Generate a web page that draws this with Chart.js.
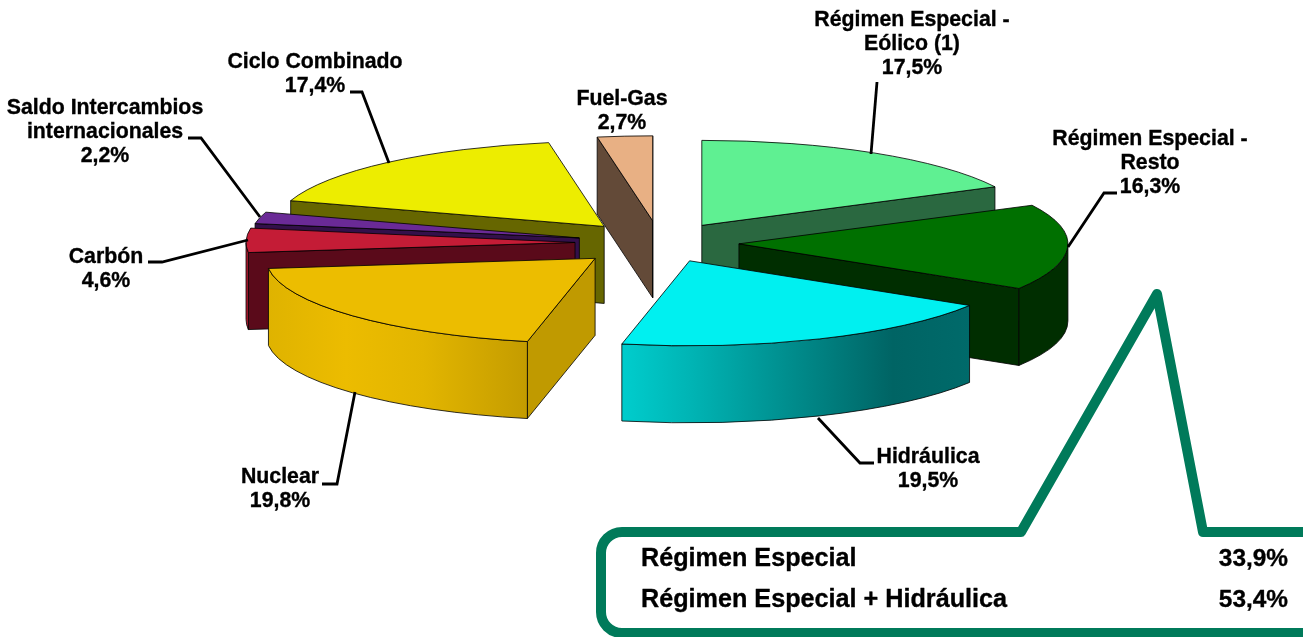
<!DOCTYPE html>
<html><head><meta charset="utf-8">
<style>html,body{margin:0;padding:0;background:#fff}canvas{display:block}</style>
<script src="https://cdn.jsdelivr.net/npm/chart.js@4"></script>
</head><body><canvas id="c" width="1303" height="637"></canvas>
<script>
// ---- data ----
const categories = ["Régimen Especial - Eólico (1)","Régimen Especial - Resto","Hidráulica","Nuclear","Carbón","Saldo Intercambios internacionales","Ciclo Combinado","Fuel-Gas"];
const shares = [17.5,16.3,19.5,19.8,4.6,2.2,17.4,2.7];
const summaryNames = ["Régimen Especial","Régimen Especial + Hidráulica"];
const summaryValues = [33.9,53.4];
// ---- styling ----
const explode = [80,79,75,88,85,83,85,86];
const topColors = ["#5ff092","#007000","#00f0f0","#ecbd00","#c41c36","#6a2a96","#eded00","#e8b084"];
const faceColors = ["#2a6840","#002e00","#006666","#c09a00","#5a0a1a","#33104a","#666600","#634a38"];
const rimStops = [null,[[0,"#002e00"],[1,"#002e00"]],[[0,"#00cdcd"],[.2,"#00b4b4"],[.78,"#006464"],[1,"#006a6a"]],[[0,"#dfb300"],[.3,"#ecbc00"],[.6,"#e2b500"],[1,"#c49c00"]],[[0,"#b01a30"],[1,"#b01a30"]],null,null,null];
const labelLines = [["Régimen Especial -","Eólico (1)"],["Régimen Especial -","Resto"],["Hidráulica"],["Nuclear"],["Carbón"],["Saldo Intercambios","internacionales"],["Ciclo Combinado"],["Fuel-Gas"]];
const labelAnchor = [[912,20],[1150,139],[928,457],[280,477],[106,257],[105,108],[315,62],[622,99]];
const leaders = [[[877,82],[871,154]],[[1117,193],[1104,193],[1068,247]],[[874,463],[860,463],[818,418]],[[322,484],[337,484],[355,392]],[[148,262],[162,262],[248,240]],[[188,138],[201,138],[260,217]],[[350,92],[362,92],[389,163]],[]];
const squash = 0.2584, depth = 77, radius = 329;
const FONT = '"Liberation Sans", Arial, sans-serif';
const edge = "rgba(0,0,0,.8)";
const pct = v => v.toFixed(1).replace(".",",")+"%";

const pie3d = {
  id:"pie3d",
  beforeDatasetDraw(chart){
    const ctx = chart.ctx, arcs = chart.getDatasetMeta(0).data;
    const order = arcs.map((a,i)=>i).sort((p,q)=>Math.sin((arcs[p].startAngle+arcs[p].endAngle)/2)-Math.sin((arcs[q].startAngle+arcs[q].endAngle)/2));
    ctx.save();
    ctx.lineWidth = 1; ctx.lineJoin = "round"; ctx.strokeStyle = edge;
    for(const i of order){
      const a = arcs[i], s = a.startAngle, e = a.endAngle, m = (s+e)/2, R = a.outerRadius;
      const d = a.options.offset;
      const ox = a.x + d*Math.cos(m), oy = a.y + squash*d*Math.sin(m);
      const px = t => ox + R*Math.cos(t), py = t => oy + squash*R*Math.sin(t);
      const face = t => {
        ctx.beginPath(); ctx.moveTo(ox,oy); ctx.lineTo(px(t),py(t));
        ctx.lineTo(px(t),py(t)+depth); ctx.lineTo(ox,oy+depth); ctx.closePath();
        ctx.fillStyle = faceColors[i]; ctx.fill(); ctx.stroke();
      };
      if(Math.cos(s)<0) face(s);
      if(Math.cos(e)>0) face(e);
      const vis = [[s,e],[s-2*Math.PI,e-2*Math.PI]].map(([u,v])=>[Math.max(u,0),Math.min(v,Math.PI)]).find(([u,v])=>v>u);
      if(vis && rimStops[i]){
        const [u,v] = vis;
        ctx.beginPath();
        ctx.ellipse(ox,oy,R,squash*R,0,u,v,false);
        ctx.ellipse(ox,oy+depth,R,squash*R,0,v,u,true);
        ctx.closePath();
        const xa = px(v), xb = px(u), g = ctx.createLinearGradient(xa,0,xb,0);
        rimStops[i].forEach(([p,c])=>g.addColorStop(p,c));
        ctx.fillStyle = g; ctx.fill(); ctx.stroke();
      }
      ctx.beginPath(); ctx.moveTo(ox,oy);
      ctx.ellipse(ox,oy,R,squash*R,0,s,e,false); ctx.closePath();
      ctx.fillStyle = a.options.backgroundColor; ctx.fill(); ctx.stroke();
    }
    ctx.restore();
    return false;
  },
  afterDraw(chart){
    const ctx = chart.ctx;
    ctx.save();
    // leaders
    ctx.strokeStyle="#000"; ctx.lineWidth=2.8; ctx.lineJoin="miter";
    leaders.forEach(l=>{ if(!l.length) return; ctx.beginPath(); l.forEach((p,j)=>j?ctx.lineTo(p[0],p[1]):ctx.moveTo(p[0],p[1])); ctx.stroke(); });
    // labels
    ctx.fillStyle="#000"; ctx.strokeStyle="#000"; ctx.lineWidth=0.35; ctx.textAlign="center"; ctx.textBaseline="middle"; ctx.font="bold 21.3px "+FONT;
    categories.forEach((c,i)=>{
      const [x,y]=labelAnchor[i];
      const lines=[...labelLines[i],pct(shares[i])];
      lines.forEach((t,j)=>{ctx.fillText(t,x,y+j*24.2);ctx.strokeText(t,x,y+j*24.2);});
    });
    // callout
    ctx.strokeStyle="#007a5a"; ctx.lineWidth=10; ctx.lineJoin="round"; ctx.lineCap="butt";
    ctx.beginPath();
    ctx.moveTo(1303,532); ctx.lineTo(1203,532); ctx.lineTo(1157,294); ctx.lineTo(1021,532);
    ctx.lineTo(622,532); ctx.arcTo(601,532,601,553,21); ctx.lineTo(601,612); ctx.arcTo(601,633,622,633,21); ctx.lineTo(1303,633);
    ctx.stroke();
    ctx.fillStyle="#000"; ctx.strokeStyle="#000"; ctx.lineWidth=0.35; ctx.textBaseline="middle";
    summaryNames.forEach((t,j)=>{
      const y=559+j*41;
      ctx.font="bold 25.2px "+FONT;
      ctx.textAlign="left"; ctx.fillText(t,641,y); ctx.strokeText(t,641,y);
      ctx.font="bold 24.4px "+FONT;
      ctx.textAlign="right"; const v=pct(summaryValues[j]); ctx.fillText(v,1288,y); ctx.strokeText(v,1288,y);
    });
    ctx.restore();
  }
};

new Chart(document.getElementById("c"),{
  type:"pie",
  data:{labels:categories,datasets:[{data:shares,backgroundColor:topColors,offset:explode,borderWidth:0}]},
  options:{
    responsive:false,animation:false,radius:radius,
    layout:{padding:{left:17,right:0,top:0,bottom:151}},
    plugins:{legend:{display:false},tooltip:{enabled:false}}
  },
  plugins:[pie3d]
});
</script></body></html>
